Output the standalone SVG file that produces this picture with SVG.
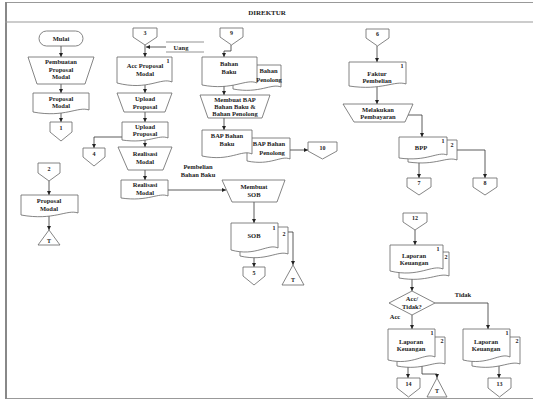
<svg xmlns="http://www.w3.org/2000/svg" width="533" height="403" viewBox="0 0 533 403">
<defs>
<style>
.s{fill:#fff;stroke:#666;stroke-width:0.8}
.c{fill:none;stroke:#333;stroke-width:0.8}
text{font-family:"Liberation Serif","Times New Roman",serif;font-weight:bold;font-size:6.5px;fill:#222;text-anchor:middle}
.n{font-size:6px}
</style>
<marker id="a" viewBox="0 0 6 6" refX="6" refY="3" markerWidth="5" markerHeight="5" orient="auto"><path d="M0,0 L6,3 L0,6 Z" fill="#222"/></marker>
</defs>
<rect width="533" height="403" fill="#fff"/>
<g id="frame">
<rect x="5.5" y="2.5" width="535" height="396" fill="none" stroke="#999" stroke-width="1"/>
<line x1="6" y1="2" x2="6" y2="399" stroke="#888" stroke-width="2"/>
<line x1="5" y1="22" x2="533" y2="22" stroke="#999" stroke-width="1"/>
<text x="267" y="14.5" style="font-size:7px">DIREKTUR</text>
</g>
<g id="uang">
<path d="M166,42 H204 M166,52 H204" fill="none" stroke="#666" stroke-width="0.7"/>
<text x="181" y="49.5">Uang</text>
</g>
<g id="connectors" class="c" marker-end="url(#a)">
<path d="M61,46 V57"/>
<path d="M61,84 V93"/>
<path d="M61,113 V122"/>
<path d="M49,181 V195"/>
<path d="M49,215 V230"/>
<path d="M145,45 V57"/>
<path d="M166,47 H146"/>
<path d="M145,84 V93"/>
<path d="M145,112 V122"/>
<path d="M122,137 H94 V148"/>
<path d="M145,140 V147"/>
<path d="M145,170 V180"/>
<path d="M168,190 H226"/>
<path d="M254,202 V223"/>
<path d="M254,250 V267"/>
<path d="M288,232 H293 V265"/>
<path d="M231,45 V51 H224 V57"/>
<path d="M224,86 V95"/>
<path d="M224,118 V130"/>
<path d="M290,150 H308"/>
<path d="M377,46 V62"/>
<path d="M377,87 V104"/>
<path d="M408,115 H422 V137"/>
<path d="M419,157 V178"/>
<path d="M457,150 H485 V178"/>
<path d="M415,230 V245"/>
<path d="M412,272 V291"/>
<path d="M435,303 H488 V329"/>
<path d="M412,315 V329"/>
<path d="M408,360 V378"/>
<path d="M422,365 V374 H437 V378"/>
<path d="M499,360 V378"/>
</g>
<g id="labels">
<text x="198" y="169">Pembelian</text>
<text x="198" y="177">Bahan Baku</text>
<text x="463" y="297">Tidak</text>
<text x="395" y="319">Acc</text>
</g>
<g id="mulai"><rect class="s" x="39" y="31" width="44" height="15" rx="7.5"/><text x="61" y="41">Mulai</text></g>
<g id="pembuatan"><polygon class="s" points="28,57 94,57 85,84 37,84"/><text x="61" y="64">Pembuatan</text><text x="61" y="71.5">Proposal</text><text x="61" y="79">Modal</text></g>
<g id="proposal1"><path class="s" d="M33,93 H89 V110 C78,106 65,118 33,112 Z"/><text x="61" y="100.5">Proposal</text><text x="61" y="107.5">Modal</text></g>
<g id="c1"><polygon class="s" points="50,122 72,122 72,132 61,141 50,132"/><text class="n" x="61" y="130">1</text></g>
<g id="c2"><polygon class="s" points="38,163 60,163 60,173 49,181 38,173"/><text class="n" x="49" y="171">2</text></g>
<g id="proposal2"><path class="s" d="M21,195 H78 V213 C67,209 54,221 21,215 Z"/><text x="49" y="203">Proposal</text><text x="49" y="210.5">Modal</text></g>
<g id="t1"><polygon class="s" points="49,230 60,245 38,245"/><text class="n" x="49" y="243">T</text></g>
<g id="c3"><polygon class="s" points="133,28 157,28 157,37 145,45 133,37"/><text class="n" x="145" y="35">3</text></g>
<g id="acc"><path class="s" d="M117,57 H172 V82 C161,77 148,91 117,83 Z"/><text class="n" x="168" y="63">1</text><text x="145" y="68">Acc Proposal</text><text x="145" y="75.5">Modal</text></g>
<g id="upload1"><polygon class="s" points="117,93 172,93 165,112 124,112"/><text x="145" y="101">Upload</text><text x="145" y="108.5">Proposal</text></g>
<g id="upload2"><path class="s" d="M122,122 H168 V138 C159,134 148,144 122,140 Z"/><text x="145" y="129">Upload</text><text x="145" y="136">Proposal</text></g>
<g id="c4"><polygon class="s" points="83,148 105,148 105,157 94,166 83,157"/><text class="n" x="94" y="156">4</text></g>
<g id="realisasi1"><polygon class="s" points="118,147 172,147 163,170 128,170"/><text x="145" y="156">Realisasi</text><text x="145" y="164">Modal</text></g>
<g id="realisasi2"><path class="s" d="M121,180 H168 V196 C159,192 148,202 121,198 Z"/><text x="145" y="187">Realisasi</text><text x="145" y="194.5">Modal</text></g>
<g id="membuatsob"><polygon class="s" points="222,180 285,180 277,202 232,202"/><text x="254" y="189">Membuat</text><text x="254" y="197">SOB</text></g>
<g id="sob"><path class="s" d="M240,227 H288 V254 C278,250 266,262 240,256 Z"/><path class="s" d="M231,223 H278 V248 C268,243 256,257 231,250 Z"/><text class="n" x="274" y="230">1</text><text class="n" x="284" y="236">2</text><text x="254" y="238">SOB</text></g>
<g id="c5"><polygon class="s" points="243,267 265,267 265,276 254,285 243,276"/><text class="n" x="254" y="275">5</text></g>
<g id="t2"><polygon class="s" points="293,265 304,285 282,285"/><text class="n" x="293" y="282">T</text></g>
<g id="c9"><polygon class="s" points="220,28 243,28 243,37 231.5,45 220,37"/><text class="n" x="231.5" y="35">9</text></g>
<g id="bahan"><path class="s" d="M233,65 H281 V87 C271,83 260,94 233,89 Z"/><path class="s" d="M202,57 H257 V83 C246,78 233,91 202,85 Z"/><text x="268.5" y="73">Bahan</text><text x="269" y="82">Penolong</text><text x="229" y="66">Bahan</text><text x="229" y="74">Baku</text></g>
<g id="bap1"><polygon class="s" points="200,95 270,95 262,118 208,118"/><text x="235" y="102">Membuat BAP</text><text x="235" y="109">Bahan Baku &amp;</text><text x="235" y="116">Bahan Penolong</text></g>
<g id="bap2"><path class="s" d="M247,138 H290 V159 C281,155 271,166 247,161 Z"/><path class="s" d="M202,130 H252 V154 C242,149 230,162 202,156 Z"/><text x="269" y="146">BAP Bahan</text><text x="272" y="155">Penolong</text><text x="227" y="138">BAP Bahan</text><text x="227" y="146">Baku</text></g>
<g id="c10"><polygon class="s" points="308,142 337,142 337,151 322.5,159 308,151"/><text class="n" x="322.5" y="150">10</text></g>
<g id="c6"><polygon class="s" points="366,29 389,29 389,38 377.5,46 366,38"/><text class="n" x="377.5" y="36">6</text></g>
<g id="faktur"><path class="s" d="M349,62 H406 V84 C395,80 382,91 349,86 Z"/><text class="n" x="402" y="68">1</text><text x="377" y="76">Faktur</text><text x="377" y="83">Pembelian</text></g>
<g id="bayar"><polygon class="s" points="343,104 413,104 405,122 354,122"/><text x="378" y="111.5">Melakukan</text><text x="378" y="119">Pembayaran</text></g>
<g id="bpp"><path class="s" d="M408,140 H457 V160 C447,156 436,166 408,162 Z"/><path class="s" d="M399,137 H447 V155 C438,151 427,162 399,158 Z"/><text class="n" x="443" y="143">1</text><text class="n" x="452" y="147">2</text><text x="421" y="150">BPP</text></g>
<g id="c7"><polygon class="s" points="407,178 431,178 431,187 419,195 407,187"/><text class="n" x="419" y="185">7</text></g>
<g id="c8"><polygon class="s" points="473,178 497,178 497,187 485,195 473,187"/><text class="n" x="485" y="185">8</text></g>
<g id="c12"><polygon class="s" points="403,213 427,213 427,222 415,230 403,222"/><text class="n" x="415" y="220">12</text></g>
<g id="lap1"><path class="s" d="M399,252 H449 V276 C439,272 427,283 399,278 Z"/><path class="s" d="M390,245 H443 V269 C432,264 419,278 390,271 Z"/><text class="n" x="438" y="251">1</text><text class="n" x="446" y="259">2</text><text x="414" y="258">Laporan</text><text x="414" y="265">Keuangan</text></g>
<g id="decision"><polygon class="s" points="412,291 435,303 412,315 389,303"/><text x="412" y="301">Acc/</text><text x="412" y="309">Tidak?</text></g>
<g id="lap2"><path class="s" d="M397,337 H445 V364 C435,360 423,371 397,366 Z"/><path class="s" d="M388,329 H435 V357 C425,352 413,366 388,360 Z"/><text class="n" x="432" y="335">1</text><text class="n" x="442" y="343">2</text><text x="411" y="344">Laporan</text><text x="411" y="351">Keuangan</text></g>
<g id="c14"><polygon class="s" points="397,378 420,378 420,388 408.5,397 397,388"/><text class="n" x="408.5" y="386">14</text></g>
<g id="t3"><polygon class="s" points="437,378 447,397 427,397"/><text class="n" x="437" y="393">T</text></g>
<g id="lap3"><path class="s" d="M472,337 H520 V364 C510,360 498,371 472,366 Z"/><path class="s" d="M463,329 H510 V357 C500,352 488,366 463,360 Z"/><text class="n" x="507" y="335">1</text><text class="n" x="517" y="343">2</text><text x="486" y="344">Laporan</text><text x="486" y="351">Keuangan</text></g>
<g id="c13"><polygon class="s" points="488,378 511,378 511,388 499.5,397 488,388"/><text class="n" x="499.5" y="386">13</text></g>
</svg>
